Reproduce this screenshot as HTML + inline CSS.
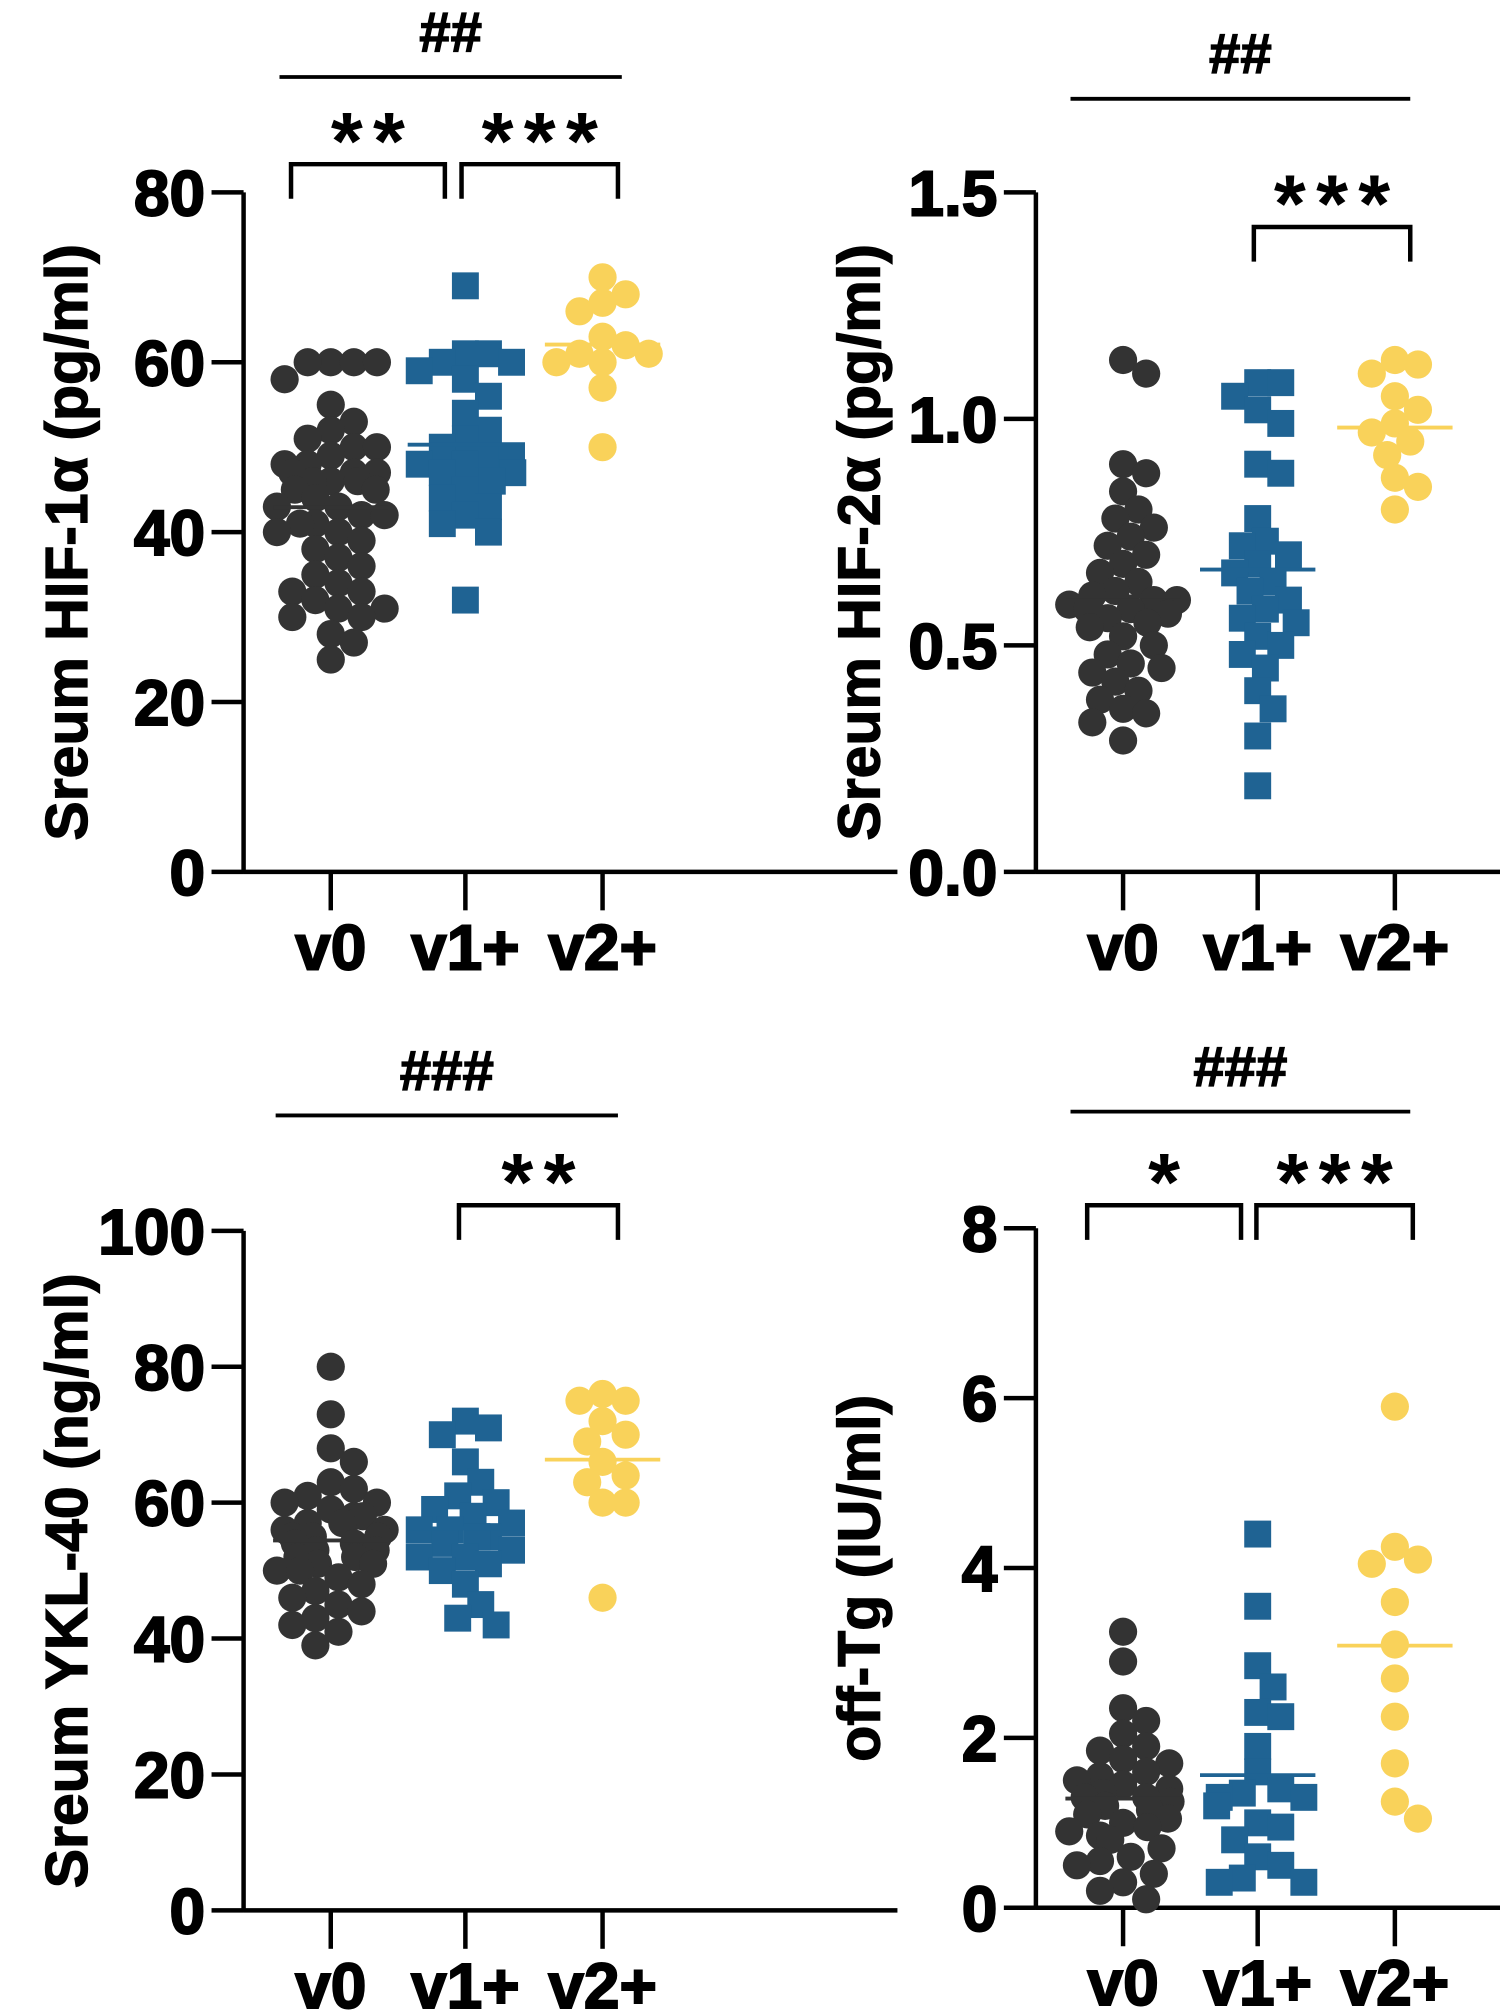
<!DOCTYPE html>
<html><head><meta charset="utf-8"><style>
html,body{margin:0;padding:0;background:#fff}
svg{display:block}
text{font-family:"Liberation Sans",Arial,sans-serif;font-weight:bold;fill:#000}
</style></head><body>
<svg id="chart" width="1500" height="2013" viewBox="0 0 1170 1570" xmlns="http://www.w3.org/2000/svg"></svg>
<script>
const categories = ["v0","v1+","v2+"];
const p1V0 = [60,60,60,60,58,55,53,52,51,50,50,49,48,48,47,47,47,46,46,46,45,45,44,43,43,42,42,41,41,40,40,39,38,37,36,35,34,33,33,32,31,31,30,30,28,27,25];
const p1V1 = [69,61,61,60,60,59,58,56,54,52,51,50,49,49,48,48,47,47,46,46,45,44,43,42,41,40,32];
const p1V2 = [70,68,67,66,63,62,61,61,60,60,57,50];
const p2V0 = [1.13,1.1,0.9,0.88,0.84,0.8,0.78,0.76,0.74,0.72,0.7,0.68,0.66,0.64,0.62,0.61,0.6,0.6,0.59,0.58,0.58,0.57,0.56,0.55,0.54,0.52,0.5,0.48,0.46,0.45,0.44,0.42,0.4,0.38,0.36,0.35,0.33,0.29];
const p2V1 = [1.08,1.08,1.05,1.02,0.99,0.9,0.88,0.78,0.73,0.72,0.7,0.68,0.66,0.64,0.62,0.6,0.58,0.56,0.55,0.52,0.5,0.48,0.45,0.4,0.36,0.3,0.19];
const p2V2 = [1.13,1.12,1.1,1.05,1.02,0.99,0.97,0.95,0.92,0.87,0.85,0.8];
const p3V0 = [80,73,68,66,63,62,61,60,60,59,58,58,57,57,56,56,55,55,55,54,54,53,53,52,52,51,51,50,50,49,48,47,46,45,44,43,42,41,39];
const p3V1 = [72,71,70,66,63,61,60,59,58,57,56,56,55,55,54,53,52,52,51,50,48,45,43,42];
const p3V2 = [76,75,75,72,70,69,66,64,63,60,60,46];
const p4V0 = [3.25,2.9,2.35,2.2,2.05,1.9,1.85,1.75,1.7,1.6,1.55,1.5,1.45,1.4,1.35,1.3,1.3,1.25,1.2,1.15,1.1,1.05,1.0,0.95,0.9,0.85,0.8,0.7,0.6,0.55,0.5,0.4,0.3,0.2,0.1];
const p4V1 = [4.4,3.55,2.85,2.6,2.3,2.25,1.9,1.6,1.4,1.35,1.3,1.3,1.2,1.0,0.95,0.8,0.6,0.5,0.35,0.3,0.3];
const p4V2 = [5.9,4.25,4.1,4.05,3.6,3.1,2.7,2.25,1.7,1.25,1.05];
const p1Ticks = ["0","20","40","60","80"];
const p2Ticks = ["0.0","0.5","1.0","1.5"];
const p3Ticks = ["0","20","40","60","80","100"];
const p4Ticks = ["0","2","4","6","8"];

const NS="http://www.w3.org/2000/svg";
const svg=document.getElementById('chart');
function mk(tag,attrs,parent){const e=document.createElementNS(NS,tag);for(const k in attrs)e.setAttribute(k,attrs[k]);(parent||svg).appendChild(e);return e;}
const colors=["#333333","#1f6393","#f9d25a"];

function panel(cfg){
  const g=mk('g',{});
  
  
  const ax=cfg.ax, y0=cfg.y0, y1=cfg.y1, max=cfg.max;
  const yS=v=>y0-(v/max)*(y0-y1);
  const xs=[ax+68,ax+173,ax+280];
  const xAxis=mk('line',{x1:ax,y1:y0,x2:ax+510,y2:y0,stroke:'#000','stroke-width':3.5},g);
  
  
  const yAxis=mk('line',{x1:ax,y1:y0+1.5,x2:ax,y2:y1,stroke:'#000','stroke-width':3.5},g);
  
  
  cfg.ticks.forEach((t,i)=>{
    const y=yS(parseFloat(t));
    mk('line',{x1:ax-25,y1:y,x2:ax,y2:y,stroke:'#000','stroke-width':3.5},g);
    const tx=mk('text',{x:ax-30,y:y+18,'text-anchor':'end','font-size':50,'stroke':'#000','stroke-width':1.5},g);
    tx.textContent=t;
    
    
  });
  categories.forEach((c,i)=>{
    mk('line',{x1:xs[i],y1:y0,x2:xs[i],y2:y0+30,stroke:'#000','stroke-width':3.5},g);
    const tx=mk('text',{x:xs[i],y:y0+76,'text-anchor':'middle','font-size':50,'stroke':'#000','stroke-width':1.5},g);
    tx.textContent=c;
    
    
  });
  const tt=mk('text',{x:0,y:0,'text-anchor':'middle','font-size':46,'stroke':'#000','stroke-width':1,transform:`translate(${ax-122},${(y0+y1)/2+8}) rotate(-90)`},g);
  tt.textContent=cfg.title;
  
  
  cfg.series.forEach((vals,si)=>{
    const r=11, placed=[];
    const sorted=vals.slice().sort((a,b)=>b-a);
    sorted.forEach(v=>{
      const y=yS(v);let off=null;
      for(let k=0;k<15;k++){
        const cand=(k===0)?0:((k%2?1:-1)*Math.ceil(k/2)*6);
        if(placed.every(p=>Math.hypot(p[0]-cand,p[1]-y)>=18)){off=cand;break;}
      }
      if(off===null){off=((placed.length%2)?1:-1)*(8+(placed.length*7)%30);}
      placed.push([off,y]);
      let m;
      if(si===1){m=mk('rect',{x:xs[si]+off-10.5,y:y-10.5,width:21,height:21,fill:colors[si]},g);}
      else{m=mk('circle',{cx:xs[si]+off,cy:y,r:r,fill:colors[si]},g);}
      
      
    });
    const mean=vals.reduce((a,b)=>a+b,0)/vals.length;
    const ml=mk('line',{x1:xs[si]-45,y1:yS(mean),x2:xs[si]+45,y2:yS(mean),stroke:colors[si],'stroke-width':3},g);
    
    
  });
  cfg.brackets.forEach(b=>{
    const p=mk('path',{d:`M${b[0]},${b[2]+27} V${b[2]} H${b[1]} V${b[2]+27}`,fill:'none',stroke:'#000','stroke-width':3.5},g);
    
    
    const s=mk('text',{x:(b[0]+b[1])/2+4,y:b[2]+4,'text-anchor':'middle','font-size':64,'letter-spacing':8},g);
    s.textContent=b[3];
    
    
  });
  const tl=mk('line',{x1:cfg.top[0],y1:cfg.top[2],x2:cfg.top[1],y2:cfg.top[2],stroke:'#000','stroke-width':3},g);
  
  
  const th=mk('text',{x:(cfg.top[0]+cfg.top[1])/2,y:cfg.top[2]-20,'text-anchor':'middle','font-size':44,'font-weight':'normal','stroke':'#000','stroke-width':1},g);
  th.textContent=cfg.top[3];
  
  
}
panel({name:'panel-hif1a',ax:190,y0:680,y1:150,max:80,ticks:p1Ticks,title:'Sreum HIF-1α (pg/ml)',series:[p1V0,p1V1,p1V2],
  brackets:[[227,347,128,'**'],[360,482,128,'***']],top:[218,485,60,'##']});
panel({name:'panel-hif2a',ax:808,y0:680,y1:150,max:1.5,ticks:p2Ticks,title:'Sreum HIF-2α (pg/ml)',series:[p2V0,p2V1,p2V2],
  brackets:[[978,1100,177,'***']],top:[835,1100,77,'##']});
panel({name:'panel-ykl40',ax:190,y0:1490,y1:960,max:100,ticks:p3Ticks,title:'Sreum YKL-40 (ng/ml)',series:[p3V0,p3V1,p3V2],
  brackets:[[358,482,940,'**']],top:[215,482,870,'###']});
panel({name:'panel-off-tg',ax:808,y0:1488,y1:958,max:8,ticks:p4Ticks,title:'off-Tg (IU/ml)',series:[p4V0,p4V1,p4V2],
  brackets:[[848,968,940,'*'],[980,1102,940,'***']],top:[835,1100,867,'###']});
</script>
</body></html>
